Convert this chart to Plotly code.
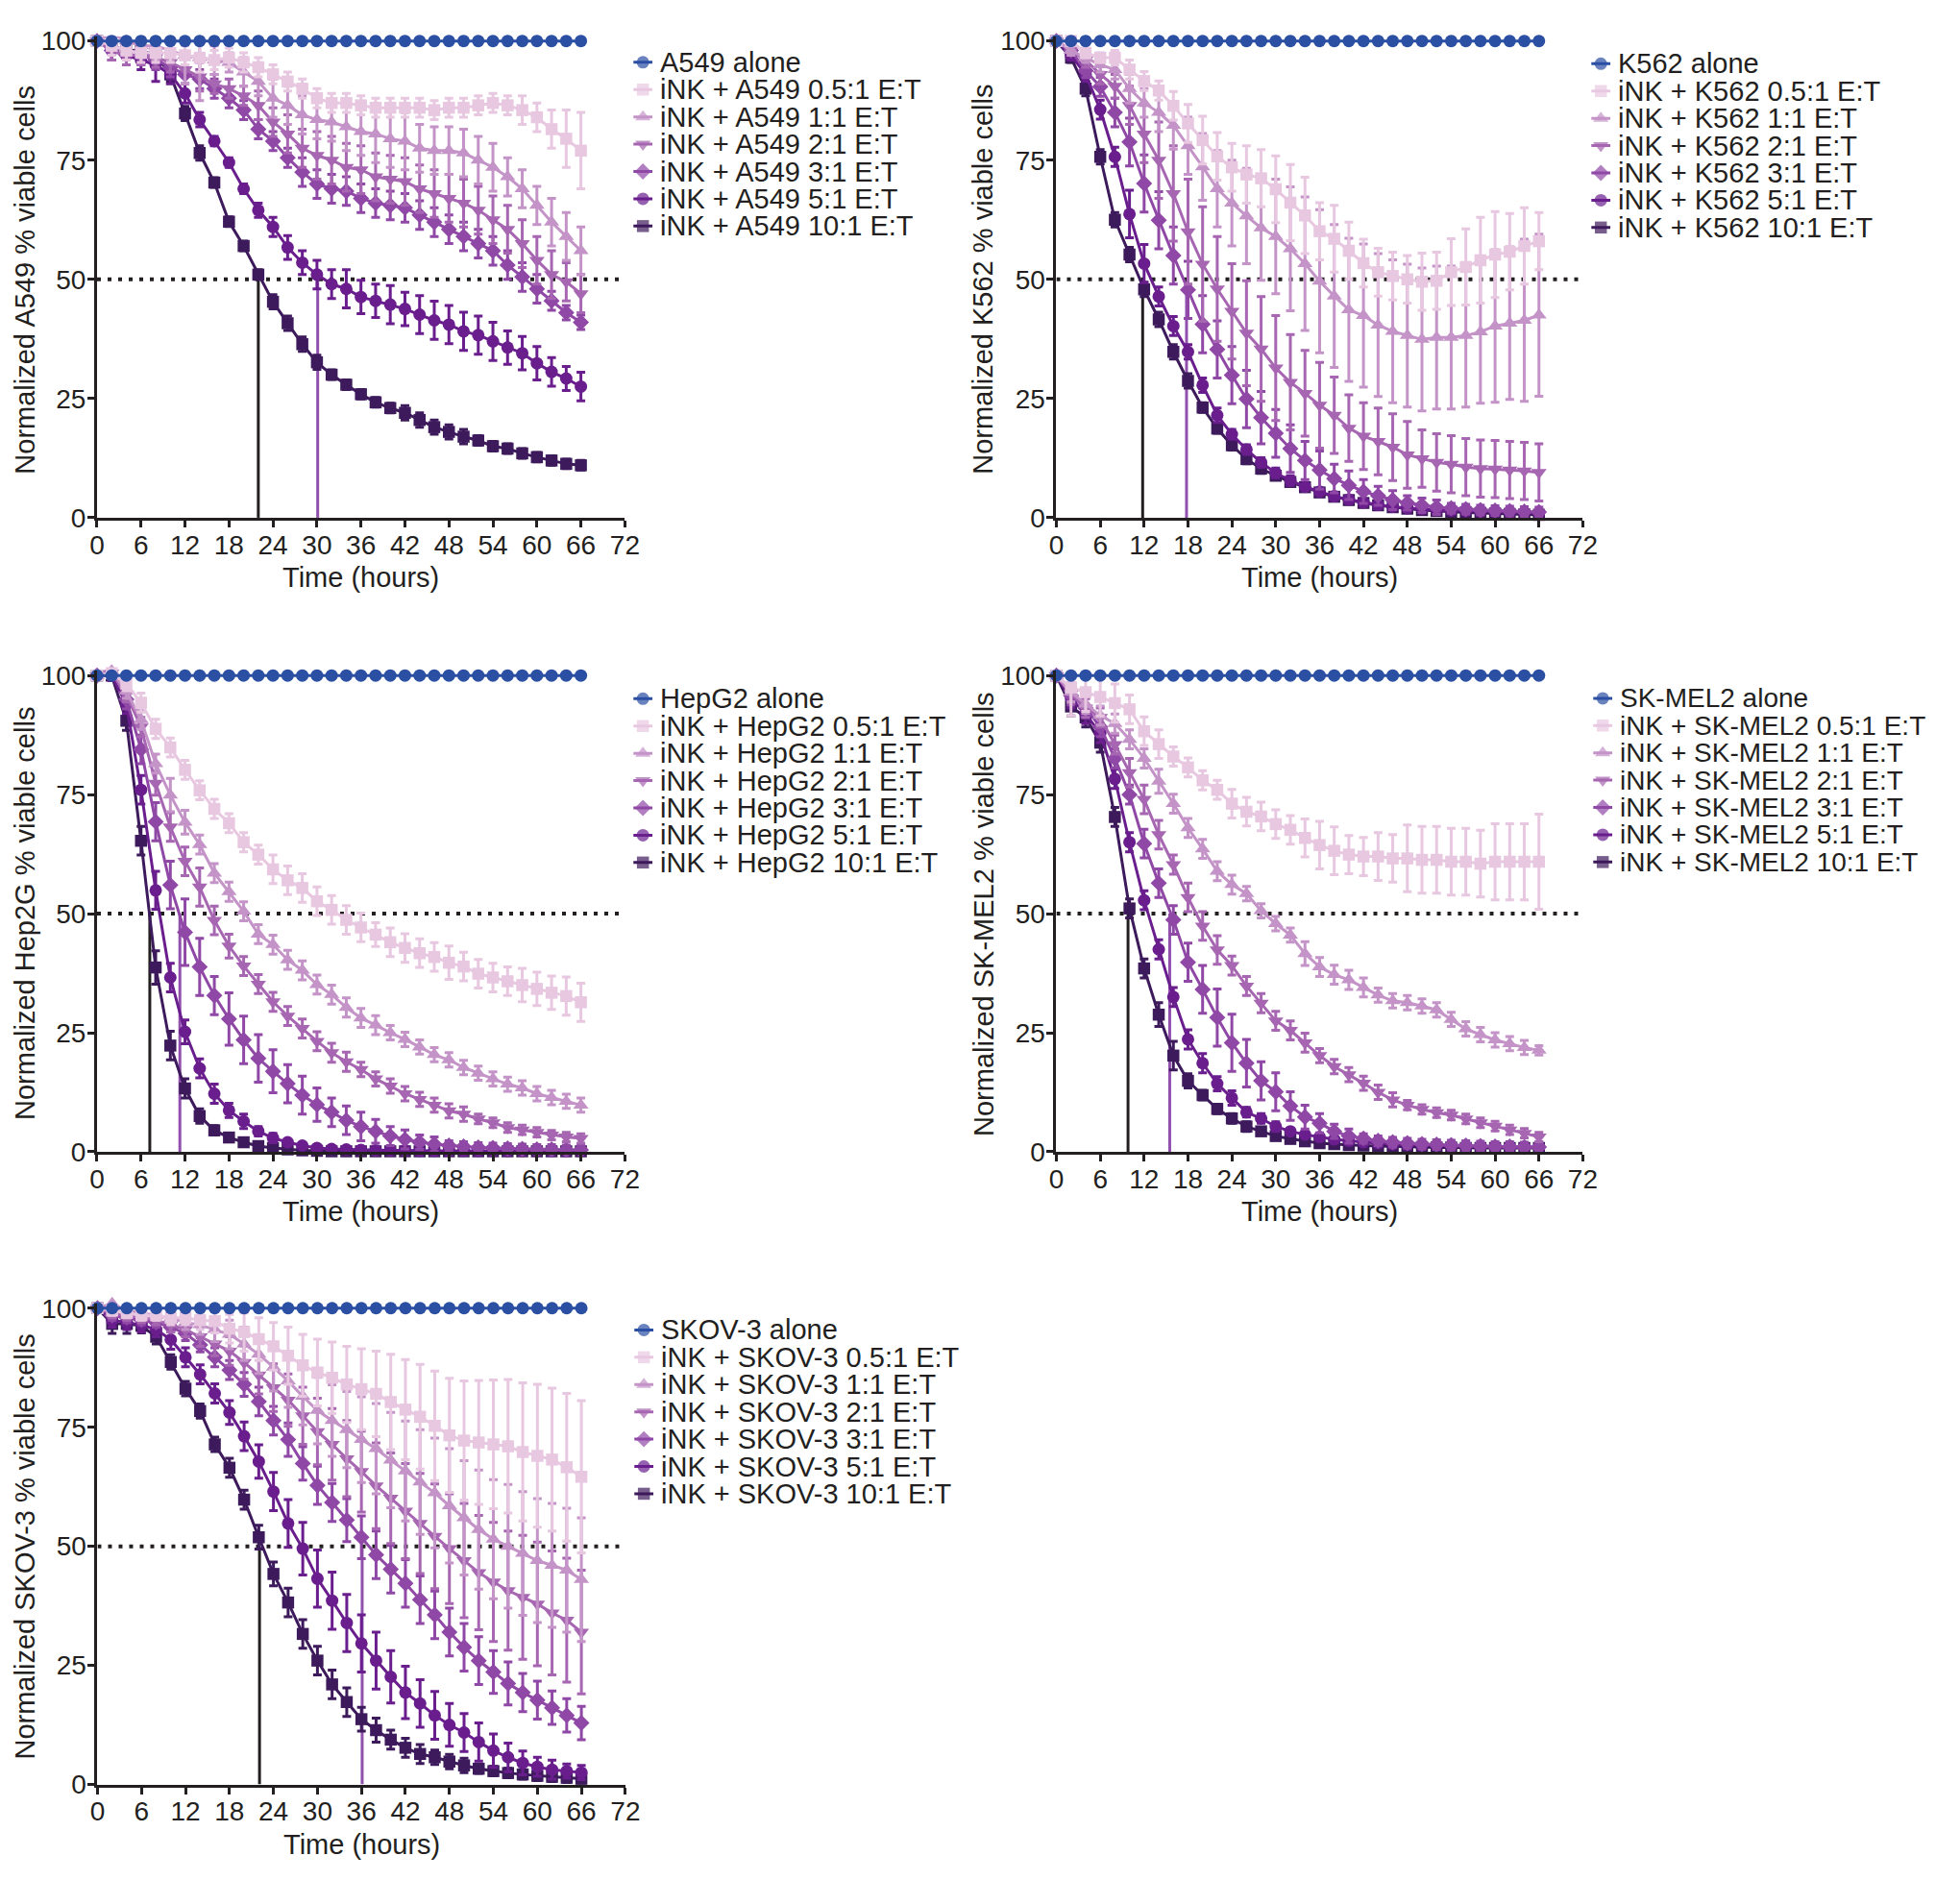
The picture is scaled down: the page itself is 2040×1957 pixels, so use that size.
import plotly.graph_objects as go

# page is 2040 x 1957; body has an 8px margin, so the figure is 16px smaller
W, H = 2040, 1957
PAD = 8
FW, FH = W - 2 * PAD, H - 2 * PAD

# ---------------- data ----------------
hours = [0, 2, 4, 6, 8, 10, 12, 14, 16, 18, 20, 22, 24, 26, 28, 30, 32, 34,
         36, 38, 40, 42, 44, 46, 48, 50, 52, 54, 56, 58, 60, 62, 64, 66]
x_ticks = [0, 6, 12, 18, 24, 30, 36, 42, 48, 54, 60, 66, 72]
y_ticks = [0, 25, 50, 75, 100]
half_level = 50

ratios = ["0.5:1", "1:1", "2:1", "3:1", "5:1", "10:1"]
targets = ["A549", "K562", "HepG2", "SK-MEL2", "SKOV-3"]
y_title_names = ["A549", "K562", "Hep2G", "SK-MEL2", "SKOV-3"]

alone_pct = [100, 100, 100, 100, 100, 100, 100, 100, 100, 100, 100, 100, 100, 100, 100, 100, 100,
             100, 100, 100, 100, 100, 100, 100, 100, 100, 100, 100, 100, 100, 100, 100, 100, 100]

# A549
a549_r05 = [100, 99, 98, 97.5, 97.5, 97.5, 97, 96.5, 96, 96.5, 95.5, 94.5, 93, 91.5, 90, 88, 87, 87,
            86.5, 86, 86, 86, 86, 85.5, 86, 86, 86.5, 87, 86.5, 85.5, 84, 81.5, 79.5, 77]
a549_r1 = [100, 101.5, 100, 99, 99, 98, 97, 96.5, 96, 95.5, 93.5, 91.5, 88, 86.5, 84.5, 83.5, 83, 82,
           81, 80.5, 79.5, 79, 77.5, 77, 77, 76.5, 75, 73.5, 71.5, 69, 65.5, 62, 59, 56]
a549_r2 = [100, 98, 97, 97, 96.5, 95.5, 94, 92.5, 91, 90, 88.5, 86.5, 83, 80.5, 77.5, 76, 75, 73.5,
           73, 71.5, 71, 70.5, 69, 68, 67, 66, 64.5, 62.5, 60.5, 57.5, 54, 51, 49.5, 47]
a549_r3 = [100, 98, 97, 97, 96, 94.5, 93, 92, 90, 88, 85.5, 81.5, 79, 75.5, 72.5, 70, 69, 68.5,
           67, 66, 65.5, 65, 63.5, 62, 60.5, 59, 57.5, 56, 53, 50.5, 48, 45.5, 43, 41]
a549_r5 = [100, 98, 97, 96, 95, 93, 89, 83.5, 79, 74.5, 69, 64.5, 61, 56.7, 53.5, 51, 49, 48,
           46.3, 45.5, 44.7, 43.8, 42.6, 41.4, 40.5, 39.1, 38.3, 37, 35.7, 34.5, 32.4, 30.6, 29.2, 27.5]
a549_r10 = [100, 99, 98, 98, 97, 93, 84.8, 76.5, 70.3, 62.1, 57, 51, 45.3, 40.8, 36.4, 32.6, 30, 27.9,
            25.9, 24.2, 23, 22, 20.5, 19, 18, 17, 16.2, 15, 14.5, 13.5, 12.7, 12, 11.3, 11]
a549_e05 = [0, 2, 2, 2, 2, 2, 2, 3, 2, 2, 2, 2, 2, 2, 2, 2, 2, 2, 2, 2, 2, 2, 2, 2, 2, 2, 2, 2, 2, 3, 3, 4, 6, 8]
a549_e1 = [0, 3, 2, 2, 3, 2, 6, 9, 3, 2, 3, 3, 4, 4, 4, 4, 4, 5, 5, 6, 6, 6, 5, 5, 5, 5, 5, 5, 4, 4, 4, 5, 5, 5]
a549_e2 = [0, 2, 2, 2, 2, 2, 3, 3, 2, 2, 2, 3, 3, 4, 4, 5, 5, 5, 5, 5, 5, 5, 5, 5, 5, 5, 5, 5, 5, 5, 5, 5, 4, 4]
a549_e3 = [0, 2, 2, 2, 2, 2, 2, 2, 2, 2, 2, 2, 2, 2, 3, 3, 3, 3, 3, 3, 3, 3, 3, 3, 3, 3, 3, 3, 3, 3, 3, 2, 1.5, 1.5]
a549_e5 = [0, 2, 2, 2, 3.5, 2, 2, 1.5, 1, 1, 1, 1.5, 2, 2.5, 2.5, 3, 3, 4, 3.5, 3.5, 4, 3.5, 4, 4, 4, 4, 4, 4,
           3.5, 3.5, 3.5, 3, 2.5, 3]
a549_e10 = [0, 1, 1, 1, 1, 1.5, 1.5, 1.5, 1, 1, 1, 1, 1.5, 1.5, 1.5, 1.5, 1, 1, 1, 1, 1, 1.5, 1.5, 1.5, 1.5,
            1.5, 1, 1, 1, 1, 1, 1, 1, 1]

# K562
k562_r05 = [100, 100, 97.5, 96.5, 96.5, 94, 91.6, 89.6, 86.4, 82.7, 79.2, 75.8, 73.5, 72, 71.2, 68.9, 66.1, 63.4,
            60.1, 58.5, 56, 53.4, 51.5, 50.7, 50, 49.5, 49.7, 51.5, 52.6, 54, 55.2, 55.8, 57, 58]
k562_r1 = [100, 98, 96.5, 95, 94, 90, 87, 85, 82.3, 78, 73.6, 69, 66, 63.3, 60.8, 59, 56.4, 53.3,
           49.6, 46.5, 43.6, 42.4, 40.4, 39.1, 38.2, 37.4, 37.8, 37.8, 38.2, 39, 40.2, 40.8, 41.4, 42.5]
k562_r2 = [100, 98, 96, 93, 90.5, 86.5, 80.5, 75, 68, 60, 53.2, 48, 43.3, 38.7, 35.4, 31.4, 28.4, 26.1,
           23.6, 21.5, 18.8, 17.1, 16, 14.8, 13.2, 12.4, 11.6, 11.2, 10.6, 10.3, 10.2, 10, 9.8, 9.5]
k562_r3 = [100, 98, 93.8, 90.4, 85, 78.8, 70.1, 62.4, 55, 47.8, 40.6, 35.3, 29.9, 24.9, 21, 17.7, 14.5, 12,
           10, 8.2, 6.8, 5.5, 4.6, 3.7, 3.1, 2.6, 2.2, 2, 1.8, 1.6, 1.5, 1.4, 1.3, 1.2]
k562_r5 = [100, 97, 93, 85.6, 75.7, 63.7, 53.3, 46.4, 40.2, 34.8, 27.8, 21.5, 17.5, 14.3, 11.6, 9.4, 7.8, 6.5,
           5.5, 4.5, 3.8, 3.2, 2.7, 2.3, 2, 1.8, 1.6, 1.5, 1.4, 1.3, 1.2, 1.1, 1.1, 1]
k562_r10 = [100, 96.5, 90, 75.7, 62.5, 55.2, 47.9, 41.6, 34.8, 28.7, 23.1, 18.7, 15.2, 12.3, 10.3, 8.8, 7.5, 6.4,
            5.3, 4.4, 3.7, 3.1, 2.6, 2.2, 1.9, 1.6, 1.4, 1.2, 1.1, 1, 0.9, 0.8, 0.7, 0.6]
k562_e05 = [0, 1, 1, 1, 1.5, 2, 2, 2, 3, 4, 5, 5, 5, 6, 6, 7, 8, 8, 6, 7, 6, 5, 5, 5, 5, 6, 6, 7, 8, 9, 9, 8, 8, 6]
k562_e1 = [0, 1, 1, 1.5, 2, 3, 3, 4, 5, 6, 7, 8, 9, 10, 11, 12, 13, 14, 15, 15, 15, 15, 15, 15, 15, 15, 15, 15,
           15, 15, 16, 16, 17, 17]
k562_e2 = [0, 1, 1.5, 2, 2.5, 4, 6, 8, 10, 11, 12, 11, 10, 11, 11, 11, 10, 9, 9, 8, 7, 7, 7, 7, 7, 6, 6, 6, 6,
           6, 6, 6, 6, 6]
k562_e3 = [0, 1, 1.5, 2, 3, 5, 6, 6, 6, 6, 6, 6, 6, 6, 5.5, 5, 5, 4, 4, 3, 3, 2.5, 2, 2, 1.5, 1.5, 1.5, 1, 1, 1,
           1, 1, 1, 1]
k562_e5 = [0, 1, 1.5, 2, 2, 5, 4, 2, 2, 1.5, 1.5, 1.5, 1, 1, 1, 1, 1, 0.5, 0.5, 0.5, 0.5, 0.5, 0.5, 0.5, 0.5,
           0.5, 0.5, 0.5, 0.5, 0.5, 0.5, 0.5, 0.5, 0.5]
k562_e10 = [0, 1, 1.5, 1.5, 1.5, 1.5, 1.5, 1.5, 1.5, 1.5, 1, 1, 1, 1, 1, 0.5, 0.5, 0.5, 0.5, 0.5, 0.5, 0.5, 0.5,
            0.5, 0.5, 0.5, 0.5, 0.5, 0.5, 0.5, 0.5, 0.5, 0.5, 0.5]

# HepG2
hepg2_r05 = [100, 100.5, 98.3, 94.3, 88.8, 84.9, 80.2, 75.9, 72, 69, 65, 62.4, 59.3, 57, 55.4, 52.6, 50.8, 48.7,
             47.1, 45.6, 44, 42.8, 41.7, 40.9, 39.7, 38.9, 37.4, 36.6, 35.8, 35, 34.2, 33.4, 32.7, 31.4]
hepg2_r1 = [100, 101, 96.7, 90.7, 81.5, 74.9, 69.2, 64.5, 58.5, 54.6, 50.5, 45.7, 43.5, 40.3, 38.1, 35.1, 33, 30.3,
            28.1, 26.6, 25, 23.6, 22, 20.4, 19.3, 17.7, 16.5, 15.3, 14.2, 13.4, 12.2, 11.4, 10.6, 9.8]
hepg2_r2 = [100, 100.5, 96, 89.2, 77.4, 68.2, 61, 55.6, 48.6, 43.2, 39, 35.2, 31.5, 28.5, 25.9, 23.2, 20.8, 18.9,
            17.3, 15.3, 13.8, 12.2, 11, 9.8, 8.6, 7.9, 6.9, 6.1, 5.1, 4.6, 4.1, 3.5, 3.1, 2.8]
hepg2_r3 = [100, 102, 95, 84.5, 69.3, 56, 46.1, 38.8, 32.8, 27.9, 23.5, 19.6, 16.9, 14.3, 11.9, 9.9, 8.3, 6.6,
            5.3, 4.3, 3.3, 2.6, 2, 1.6, 1.3, 1.1, 0.9, 0.8, 0.7, 0.6, 0.5, 0.5, 0.4, 0.4]
hepg2_r5 = [100, 100, 94, 76, 54.9, 36.6, 25.2, 17.5, 12.2, 8.7, 6.4, 4.3, 2.9, 2, 1.3, 0.8, 0.6, 0.5,
            0.4, 0.3, 0.3, 0.3, 0.2, 0.2, 0.2, 0.2, 0.2, 0.2, 0.2, 0.2, 0.2, 0.2, 0.2, 0.2]
hepg2_r10 = [100, 100, 90.5, 65.3, 38.7, 22.3, 13.3, 7.5, 4.5, 3, 2, 1.2, 0.8, 0.5, 0.3, 0.2, 0.1, 0.1,
             0.1, 0.1, 0.1, 0.1, 0.1, 0.1, 0.1, 0.1, 0.1, 0.1, 0.1, 0.1, 0.1, 0.1, 0.1, 0.1]
hepg2_e05 = [0, 1, 1.5, 2, 2, 2, 2, 2, 2, 2, 2, 2, 3, 3, 3, 3, 3, 3, 3, 2.5, 3, 3, 3, 3, 3.5, 3, 3, 3, 3, 3.5,
             3.5, 3.5, 4, 4]
hepg2_e1 = [0, 1, 1.5, 2, 2, 3.5, 2.5, 2, 2, 2, 2, 2, 2, 2, 2, 2, 2, 2, 2, 2, 1.5, 1.5, 1.5, 1.5, 1.5, 1.5,
            1.5, 1.5, 1.5, 1.5, 1.5, 1.5, 1.5, 1.5]
hepg2_e2 = [0, 1, 1.5, 2, 2.5, 3, 3, 4, 3, 2.5, 2, 2, 2, 2, 2, 2, 2, 2, 1.5, 1.5, 1.5, 1.5, 1.5, 1.5, 1.5, 1.5,
            1, 1, 1, 1, 1, 1, 1, 1]
hepg2_e3 = [0, 1, 2, 3, 4, 5, 7, 6, 4, 5.5, 5, 5, 4.5, 4, 4, 3.5, 3, 3, 3, 2.5, 2, 2, 1.5, 1.5, 1, 1, 1, 1, 1,
            1, 1, 1, 1, 1]
hepg2_e5 = [0, 1, 2, 3, 4, 3, 2.5, 2, 2, 1.5, 1.5, 1, 1, 0.5, 0.5, 0.5, 0.5, 0.5, 0.5, 0.5, 0.5, 0.5, 0.5,
            0.5, 0.5, 0.5, 0.5, 0.5, 0.5, 0.5, 0.5, 0.5, 0.5, 0.5]
hepg2_e10 = [0, 1, 2, 3, 3.5, 3, 2, 1.5, 1, 0.5, 0.5, 0.5, 0.5, 0.5, 0.5, 0.5, 0.5, 0.5, 0.5, 0.5, 0.5, 0.5,
             0.5, 0.5, 0.5, 0.5, 0.5, 0.5, 0.5, 0.5, 0.5, 0.5, 0.5, 0.5]

# SK-MEL2
skmel2_r05 = [100, 97.5, 96.5, 95.5, 94.2, 92.9, 88.3, 85.6, 83, 80.7, 78, 76, 73.1, 71.4, 70.4, 68.8, 67.6, 65.9,
              64.4, 63.2, 62.4, 62, 62, 61.6, 61.6, 61.3, 61.3, 60.9, 60.9, 60.5, 60.9, 60.9, 60.9, 60.9]
skmel2_r1 = [100, 96.5, 94, 91.6, 89.9, 86.6, 82.6, 77.8, 73.1, 68, 63.6, 58.9, 56.1, 54.2, 50.6, 47.9, 45.5, 41.6,
             38.8, 37.2, 36.1, 34.5, 32.9, 31.7, 31.3, 30.6, 29.8, 27.8, 25.8, 24.6, 23.5, 22.7, 21.9, 21.3]
skmel2_r2 = [100, 96.2, 93.2, 91.2, 85.5, 79.6, 74, 66.6, 60.3, 53.4, 47.4, 42.4, 39.1, 34.8, 31.2, 27.5, 25.5, 22.9,
             20.2, 17.9, 16.2, 14.4, 12.5, 10.9, 9.8, 8.9, 8.2, 7.7, 6.9, 6.1, 5.4, 4.6, 3.9, 3.1]
skmel2_r3 = [100, 95.8, 93.2, 89.2, 82.6, 75, 64.7, 56.4, 48.7, 39.8, 34.1, 28.2, 22.9, 18.6, 14.9, 12.6, 9.6, 7.3,
             6, 4.3, 3.3, 2.8, 2.3, 2, 1.8, 1.6, 1.5, 1.4, 1.3, 1.2, 1.1, 1.1, 1, 1]
skmel2_r5 = [100, 95.2, 91.9, 87.9, 78.3, 65, 52.8, 42.5, 32.5, 23.6, 18.6, 14.3, 11.3, 8.3, 7, 5.3, 4.3, 3.6,
             3.1, 2.6, 2.3, 2, 1.8, 1.6, 1.5, 1.4, 1.3, 1.2, 1.1, 1, 1, 1, 1, 1]
skmel2_r10 = [100, 93.5, 91.2, 85.9, 70.3, 51.1, 38.5, 28.8, 20.2, 14.9, 11.9, 9, 7, 5.3, 4.3, 3.3, 2.7, 2.2,
              1.8, 1.6, 1.4, 1.3, 1.2, 1.1, 1, 1, 0.9, 0.9, 0.8, 0.8, 0.8, 0.8, 0.8, 0.8]
skmel2_e05 = [0, 6, 4, 4, 4, 3, 3, 3, 2, 2, 2, 2, 3, 3, 3, 3, 3, 4, 5, 5, 4, 4, 5, 5, 7, 7, 7, 7, 7, 7, 8, 8, 8, 10]
skmel2_e1 = [0, 2, 2, 2, 2, 2, 2, 2.5, 2, 2, 2, 2, 2, 1.5, 1.5, 1.5, 1.5, 2.5, 2, 2, 2, 2, 1.5, 1.5, 1.5, 1.5,
             1.5, 1.5, 1.5, 1.5, 1.5, 1.5, 1.5, 1]
skmel2_e2 = [0, 2, 2, 2, 2, 3, 3, 3, 2, 3, 3, 3, 2, 2, 2, 2, 2, 2, 1.5, 1.5, 1.5, 1.5, 1.5, 1.5, 1, 1, 1, 1, 1,
             1, 1, 1, 1, 1]
skmel2_e3 = [0, 2, 2, 2, 2, 2, 3, 3, 3, 4, 5, 6, 6, 5, 4, 4, 3, 2.5, 2, 1.5, 1.5, 1, 1, 1, 1, 1, 1, 1, 1, 1, 1,
             1, 1, 1]
skmel2_e5 = [0, 2, 2, 2, 2, 2, 2, 2, 2, 2, 2, 1.5, 1.5, 1, 1, 1, 0.5, 0.5, 0.5, 0.5, 0.5, 0.5, 0.5, 0.5, 0.5,
             0.5, 0.5, 0.5, 0.5, 0.5, 0.5, 0.5, 0.5, 0.5]
skmel2_e10 = [0, 2, 2, 2, 2, 2, 2, 2.5, 3, 1.5, 1, 1, 1, 1, 0.5, 0.5, 0.5, 0.5, 0.5, 0.5, 0.5, 0.5, 0.5, 0.5,
              0.5, 0.5, 0.5, 0.5, 0.5, 0.5, 0.5, 0.5, 0.5, 0.5]

# SKOV-3
skov3_r05 = [100, 99.5, 99, 98.5, 98.5, 98, 98, 97.5, 97.3, 95.7, 95, 93.5, 92, 90, 88, 86.5, 85.4, 84,
             83, 82, 80.3, 78.7, 77.2, 75.3, 73.3, 72.2, 71.8, 71.4, 71, 69.8, 69, 68.2, 66.6, 64.6]
skov3_r1 = [100, 101, 99.5, 99, 98.5, 98, 97, 96.5, 95.5, 94.5, 92.5, 90.3, 87.6, 84.7, 81.5, 78.5, 76.4, 74.5,
            72.4, 70.5, 68.1, 65.8, 63.5, 61.2, 58.5, 56, 53.5, 51.5, 50, 48.5, 47, 46, 45, 43]
skov3_r2 = [100, 99, 98.5, 98, 97.5, 96.5, 95.5, 94, 92.5, 91, 88.6, 86, 83.3, 80.7, 77.4, 74.1, 71.4, 68.4,
            65.7, 62.7, 60.1, 57.4, 54.8, 52.1, 49.5, 47, 44.5, 42.5, 40.7, 39.3, 37.9, 36, 34.5, 32]
skov3_r3 = [100, 98.5, 98, 97.5, 97, 96, 94.7, 92.3, 89.7, 87, 84, 80.4, 76.4, 72.4, 67.4, 62.8, 59.2, 55.5,
            51.9, 48.2, 45.2, 42.2, 38.8, 35.6, 32, 28.8, 26, 23.6, 21.2, 19.3, 17.7, 16.1, 14.5, 12.9]
skov3_r5 = [100, 97.5, 97, 96.5, 95.5, 93.4, 89.7, 86.1, 82.1, 78.1, 73.1, 67.8, 61.5, 54.8, 49.5, 43.2, 38.6, 33.9,
            29.6, 26, 22.6, 19.3, 17, 14.5, 12.5, 10.9, 8.9, 7.1, 5.7, 4.5, 3.7, 3.1, 2.8, 2.5]
skov3_r10 = [100, 96.7, 96.7, 96.3, 94, 88.7, 83.1, 78.4, 71.4, 66.5, 59.8, 51.9, 44.2, 38.2, 31.6, 26, 21, 17.3,
             13.7, 11.4, 9.4, 7.7, 6.4, 5.7, 4.8, 4, 3.3, 2.8, 2.4, 2.1, 1.8, 1.6, 1.4, 1.2]
skov3_e05 = [0, 1, 1, 1, 1, 1.5, 1.5, 2, 2.5, 3, 4, 4.5, 5, 6, 6.5, 7, 7.5, 8, 8.5, 9, 10, 10.5, 11, 11.5, 12,
             12.5, 13, 13.5, 14, 14.5, 15, 15, 15.5, 16]
skov3_e1 = [0, 1.5, 1, 1, 1, 1, 1.5, 2, 2.5, 3, 3.5, 4, 5, 5.5, 6, 7, 7.5, 8, 9, 9.5, 10, 10.5, 11, 11.5, 12,
            12, 12.5, 12.5, 13, 13, 13, 13, 13, 13]
skov3_e2 = [0, 1, 1, 1, 1, 1.5, 1.5, 2, 2.5, 3, 3.5, 4, 5, 5.5, 6, 7, 7.5, 8, 8.5, 9, 9.5, 10, 10.5, 11, 11.5,
            12, 12, 12.5, 12.5, 13, 13, 13, 13, 13]
skov3_e3 = [0, 1, 1, 1, 1, 1, 1.5, 1.5, 2, 2, 2.5, 3, 3, 3.5, 3.5, 4, 4, 4.5, 4.5, 5, 5, 5, 5, 5, 5, 5, 5, 4.5,
            4.5, 4, 4, 3.5, 3.5, 3.5]
skov3_e5 = [0, 1.5, 1.5, 1.5, 1.5, 2, 2, 2, 2, 2.5, 3, 3.5, 4, 5, 5.5, 6, 6, 6, 6, 6, 5.5, 5.5, 5, 5, 4.5, 4,
            4, 3.5, 3, 2.5, 2, 2, 1.5, 1.5]
skov3_e10 = [0, 2, 2, 1.5, 1.5, 1.5, 1.5, 1.5, 1.5, 2, 2, 2.5, 2.5, 3, 3, 3, 3, 3, 2.5, 2.5, 2, 2, 2, 1.5, 1.5,
             1.5, 1, 1, 1, 1, 1, 1, 1, 1]

# time at which viability reaches 50% (drop lines)
ec50_10to1 = [22, 11.8, 7.2, 9.8, 22.1]
ec50_5to1 = [30.1, 17.8, 11.3, 15.5, 36.1]

values = [
    [a549_r05, a549_r1, a549_r2, a549_r3, a549_r5, a549_r10],
    [k562_r05, k562_r1, k562_r2, k562_r3, k562_r5, k562_r10],
    [hepg2_r05, hepg2_r1, hepg2_r2, hepg2_r3, hepg2_r5, hepg2_r10],
    [skmel2_r05, skmel2_r1, skmel2_r2, skmel2_r3, skmel2_r5, skmel2_r10],
    [skov3_r05, skov3_r1, skov3_r2, skov3_r3, skov3_r5, skov3_r10],
]
errors = [
    [a549_e05, a549_e1, a549_e2, a549_e3, a549_e5, a549_e10],
    [k562_e05, k562_e1, k562_e2, k562_e3, k562_e5, k562_e10],
    [hepg2_e05, hepg2_e1, hepg2_e2, hepg2_e3, hepg2_e5, hepg2_e10],
    [skmel2_e05, skmel2_e1, skmel2_e2, skmel2_e3, skmel2_e5, skmel2_e10],
    [skov3_e05, skov3_e1, skov3_e2, skov3_e3, skov3_e5, skov3_e10],
]

# ---------------- style ----------------
FONT = "Liberation Sans, Arial, Helvetica, sans-serif"
INK = "#231F20"
BLUE = "#2B4FA3"
COLORS = ["#E8C7E1", "#C493C7", "#A766B1", "#9048A6", "#6A1E8E", "#3D1A5B"]
SYMBOLS = ["square", "triangle-up", "triangle-down", "diamond", "circle", "square"]
SIZES = [12.5, 14, 14, 13, 13, 12.5]
ALONE_SIZE = 13
DROP_PURPLE = "#9150AE"

# panel geometry in page pixels: x of t=0 / t=72, y of 0% / 100%, legend glyph centre, y-title centre,
# legend font size
geom = [
    dict(x0=94, x1=650, y0=536, y100=33, lx=669, ly=55.5, tx=18, lf=29),
    dict(x0=1104.5, x1=1659, y0=536, y100=33, lx=1678, ly=57, tx=1027, lf=29),
    dict(x0=94, x1=650, y0=1205, y100=702.5, lx=669, ly=727, tx=18, lf=29),
    dict(x0=1104.5, x1=1659, y0=1205, y100=702.5, lx=1680, ly=726.5, tx=1028, lf=28),
    dict(x0=94.5, x1=650.5, y0=1872.5, y100=1370, lx=670, ly=1393, tx=18, lf=29),
]
ROW = 28.8


def fx(px):
    return (px - PAD) / FW


def fy(py):
    return 1 - (py - PAD) / FH


fig = go.Figure()
layout = dict(width=FW, height=FH, margin=dict(l=0, r=0, t=0, b=0, pad=0), autosize=False,
              paper_bgcolor="white", plot_bgcolor="white", showlegend=False,
              font=dict(family=FONT, color=INK, size=28))
annotations = []

for k, g in enumerate(geom):
    sfx = "" if k == 0 else str(k + 1)
    xa, ya = "x" + sfx, "y" + sfx
    ytop = g["y100"] - (g["y0"] - g["y100"]) / 100.0
    axis_common = dict(showline=True, linecolor=INK, linewidth=3, ticks="outside", ticklen=7,
                       tickwidth=3, tickcolor=INK, showgrid=False, zeroline=False,
                       tickfont=dict(family=FONT, size=28, color=INK), fixedrange=True)
    layout["xaxis" + sfx] = dict(domain=[fx(g["x0"]), fx(g["x1"])], range=[0, 72], tickmode="array",
                                 tickvals=x_ticks, anchor=ya, ticklabelstandoff=-6, **axis_common)
    layout["yaxis" + sfx] = dict(domain=[fy(g["y0"]), fy(ytop)], range=[0, 101], tickmode="array",
                                 tickvals=y_ticks, anchor=xa, ticklabelstandoff=-4, **axis_common)

    # drop lines at the 50 % time
    fig.add_trace(go.Scatter(x=[ec50_10to1[k], ec50_10to1[k]], y=[0, half_level], mode="lines",
                             line=dict(color=INK, width=3), xaxis=xa, yaxis=ya, hoverinfo="skip"))
    fig.add_trace(go.Scatter(x=[ec50_5to1[k], ec50_5to1[k]], y=[0, half_level], mode="lines",
                             line=dict(color=DROP_PURPLE, width=3), xaxis=xa, yaxis=ya, hoverinfo="skip"))
    # dotted 50 % line
    fig.add_trace(go.Scatter(x=[0, 72], y=[half_level, half_level], mode="lines",
                             line=dict(color=INK, width=4, dash="4px,7px"), xaxis=xa, yaxis=ya,
                             hoverinfo="skip"))

    # series: draw darkest first
    for i in range(5, -1, -1):
        fig.add_trace(go.Scatter(
            x=hours, y=values[k][i], mode="lines+markers", xaxis=xa, yaxis=ya, cliponaxis=False,
            name="iNK + %s %s E:T" % (targets[k], ratios[i]),
            line=dict(color=COLORS[i], width=3),
            marker=dict(symbol=SYMBOLS[i], size=SIZES[i], color=COLORS[i], line=dict(width=0)),
            error_y=dict(type="data", array=errors[k][i], visible=True, color=COLORS[i],
                         thickness=3, width=4.5)))
    fig.add_trace(go.Scatter(
        x=hours, y=alone_pct, mode="lines+markers", xaxis=xa, yaxis=ya, cliponaxis=False,
        name="%s alone" % targets[k], line=dict(color=BLUE, width=3),
        marker=dict(symbol="circle", size=ALONE_SIZE, color=BLUE, line=dict(width=0))))

    # axis titles
    annotations.append(dict(xref="paper", yref="paper", x=fx((g["x0"] + g["x1"]) / 2),
                            y=fy(g["y0"] + 63), text="Time (hours)", showarrow=False,
                            xanchor="center", yanchor="middle", font=dict(family=FONT, size=29, color=INK)))
    annotations.append(dict(xref="paper", yref="paper", x=fx(g["tx"]), y=fy((g["y0"] + g["y100"]) / 2),
                            text="Normalized %s %% viable cells" % y_title_names[k], textangle=-90,
                            showarrow=False, xanchor="center", yanchor="middle",
                            font=dict(family=FONT, size=29, color=INK)))

    # legend: glyphs on a hidden axis pair (rows 0..6), labels as paper annotations
    li = k + 6
    lxa, lya = "x%d" % li, "y%d" % li
    layout["xaxis%d" % li] = dict(domain=[fx(g["lx"] - 12), fx(g["lx"] + 12)], range=[-1.2, 1.2],
                                  visible=False, fixedrange=True, anchor=lya)
    layout["yaxis%d" % li] = dict(domain=[fy(g["ly"] + 6 * ROW + ROW / 2), fy(g["ly"] - ROW / 2)],
                                  range=[6.5, -0.5], visible=False, fixedrange=True, anchor=lxa)
    legend_entries = [("%s alone" % targets[k], BLUE, "circle", ALONE_SIZE)] + [
        ("iNK + %s %s E:T" % (targets[k], ratios[i]), COLORS[i], SYMBOLS[i], SIZES[i]) for i in range(6)]
    for r, (label, col, sym, sz) in enumerate(legend_entries):
        fig.add_trace(go.Scatter(x=[-1, 0, 1], y=[r, r, r], mode="lines+markers", xaxis=lxa, yaxis=lya,
                                 cliponaxis=False, line=dict(color=col, width=3),
                                 marker=dict(symbol=sym, size=[0, sz, 0], color=col, line=dict(width=0)),
                                 hoverinfo="skip"))
        annotations.append(dict(xref="paper", yref="paper", x=fx(g["lx"] + 16), y=fy(g["ly"] + r * ROW),
                                text=label, showarrow=False, xanchor="left", yanchor="middle",
                                font=dict(family=FONT, size=g["lf"], color=INK)))

layout["annotations"] = annotations
fig.update_layout(**layout)
fig.write_html("out.html")
